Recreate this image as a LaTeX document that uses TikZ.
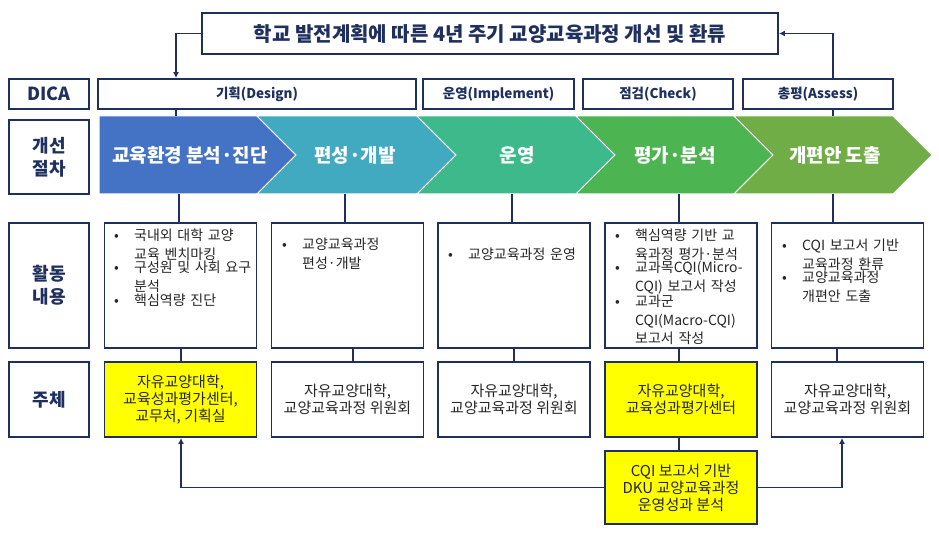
\documentclass[tikz,border=0pt]{standalone}
\usepackage{fontspec}
\setmainfont{Noto Sans CJK KR}
\usetikzlibrary{arrows.meta}
\definecolor{navy}{RGB}{31,48,94}
\definecolor{chevA}{RGB}{68,114,196}
\definecolor{chevB}{RGB}{66,170,192}
\definecolor{chevC}{RGB}{62,185,140}
\definecolor{chevD}{RGB}{76,180,80}
\definecolor{chevE}{RGB}{112,173,71}
\definecolor{hilite}{RGB}{255,255,0}
\definecolor{bodytext}{RGB}{38,38,38}
\newcommand{\bitem}[1]{\par\noindent\makebox[23pt][l]{\hspace{3pt}•}\parbox[t]{118pt}{\raggedright #1}}

\begin{document}
\begin{tikzpicture}[x=1pt,y=-1pt,
  box/.style={draw=navy,line width=1.8pt,fill=white,inner sep=0pt,align=center},
  rowlabel/.style={box,minimum width=80pt,text=navy,font=\bfseries\fontsize{18}{23}\selectfont},
  dicabox/.style={box,minimum height=30pt,text=navy,font=\bfseries\fontsize{13.5}{16}\selectfont},
  actbox/.style={box,minimum width=152pt,minimum height=125pt},
  whobox/.style={box,minimum width=152pt,minimum height=75pt,text=bodytext,font=\fontsize{15}{17}\selectfont},
  acttext/.style={anchor=north west,inner sep=0pt,text width=141pt,align=left,text=bodytext,font=\fontsize{14}{18.5}\selectfont},
  steptext/.style={text=white,font=\bfseries\fontsize{19}{22}\selectfont},
  link/.style={draw=navy,line width=1.8pt},
  feed/.style={link,-{Latex[length=6pt,width=6pt]}}]
\useasboundingbox (0,0) rectangle (939,534);

\node[box,minimum width=576pt,minimum height=41pt,text=navy,font=\bfseries\fontsize{20}{22}\selectfont] (title) at (490,33.5) {학교 발전계획에 따른 4년 주기 교양교육과정 개선 및 환류};

% left column
\node[rowlabel,minimum height=30pt] (lDica) at (49,94) {DICA};
\node[rowlabel,minimum height=74pt] (lStep) at (49,157) {개선\\절차};
\node[rowlabel,minimum height=125pt] (lAct) at (49,285.5) {활동\\내용};
\node[rowlabel,minimum height=75pt] (lWho) at (49,399.5) {주체};

% DICA row
\node[dicabox,minimum width=318pt] (dDes) at (257,94) {기획(Design)};
\node[dicabox,minimum width=151pt] (dImp) at (498.5,94) {운영(Implement)};
\node[dicabox,minimum width=150pt] (dChk) at (658,94) {점검(Check)};
\node[dicabox,minimum width=150pt] (dAss) at (818,94) {총평(Assess)};

% chevrons
\filldraw[fill=chevA,draw=white,line width=1pt] (99,116) -- (257,116) -- (296,155) -- (257,194) -- (99,194) -- cycle;
\foreach \b/\e/\c in {257/417/chevB,417/576/chevC,576/734/chevD,734/893/chevE}
  \filldraw[fill=\c,draw=white,line width=1pt] (\b,116) -- (\e,116) -- ({\e+39},155) -- (\e,194) -- (\b,194) -- ({\b+39},155) -- cycle;
\node[steptext] (p1) at (190,155) {교육환경 분석·진단};
\node[steptext] (p2) at (355,155) {편성·개발};
\node[steptext] (p3) at (517,155) {운영};
\node[steptext] (p4) at (675,155) {평가·분석};
\node[steptext] (p5) at (835,155) {개편안 도출};
\coordinate (chT) at (0,116);
\coordinate (chB) at (0,194);

% activities
\foreach \x [count=\i] in {180.5,347.5,514,681,847.5}
  \node[actbox] (act\i) at (\x,285.5) {};
\node[acttext] (t1) at (111,222) {\bitem{국내외 대학 교양\\교육 벤치마킹}\bitem{구성원 및 사회 요구\\분석}\bitem{핵심역량 진단}};
\node[acttext] (t2) at (279,231) {\bitem{교양교육과정\\편성·개발}};
\node[acttext] (t3) at (445,241) {\bitem{교양교육과정 운영}};
\node[acttext] (t4) at (612,222) {\bitem{핵심역량 기반 교\\육과정 평가·분석}\bitem{교과목CQI(Micro-\\CQI) 보고서 작성}\bitem{교과군\\CQI(Macro-CQI)\\보고서 작성}};
\node[acttext] (t5) at (779,232) {\bitem{CQI 보고서 기반\\교육과정 환류}\bitem{교양교육과정\\개편안 도출}};

% subjects
\node[whobox,fill=hilite] (who1) at (180.5,399.5) {자유교양대학,\\교육성과평가센터,\\교무처, 기획실};
\node[whobox] (who2) at (347.5,399.5) {자유교양대학,\\교양교육과정 위원회};
\node[whobox] (who3) at (514,399.5) {자유교양대학,\\교양교육과정 위원회};
\node[whobox,fill=hilite] (who4) at (681,399.5) {자유교양대학,\\교육성과평가센터};
\node[whobox] (who5) at (847.5,399.5) {자유교양대학,\\교양교육과정 위원회};
\node[whobox,fill=hilite,minimum height=73pt] (cqi) at (681,487.5) {CQI 보고서 기반\\DKU 교양교육과정\\운영성과 분석};

% connectors
\coordinate (k1) at (176,0);
\coordinate (k5) at (833,0);
\draw[feed] (title.west) -| (dDes.north -| k1);
\draw[link] (dDes.south -| k1) -- (chT -| k1);
\draw[feed] (dAss.north -| k5) |- (title.east);
\draw[link] (dAss.south -| k5) -- (chT -| k5);
\foreach \x [count=\i] in {179,345,512,679,833}
  \draw[link] (chB -| \x,0) -- (act\i.north -| \x,0);
\foreach \x [count=\i] in {181,353,514,679,837}
  \draw[link] (act\i.south -| \x,0) -- (who\i.north -| \x,0);
\draw[link] (who4.south -| 679,0) -- (cqi.north -| 679,0);
\draw[feed] (cqi.west) -| (who1.south -| 181,0);
\draw[feed] (cqi.east) -| (who5.south -| 842,0);

\end{tikzpicture}
\end{document}
